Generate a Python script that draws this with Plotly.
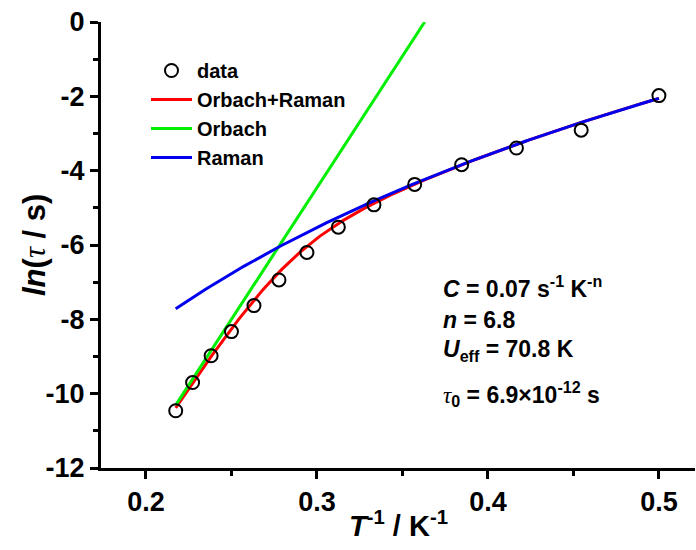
import numpy as np
import plotly.graph_objects as go

# Measured relaxation times: temperature (K) and ln(tau / s)
temperature = [4.6, 4.4, 4.2, 4.0, 3.8, 3.6, 3.4, 3.2, 3.0, 2.8, 2.6, 2.4, 2.2, 2.0]
ln_tau = [-10.46, -9.70, -8.98, -8.33, -7.63, -6.94, -6.20, -5.52, -4.92,
          -4.37, -3.84, -3.39, -2.91, -1.98]

# Fitted parameters for tau^-1 = C*T^n + tau0^-1 * exp(-Ueff/T)
C = 0.07
n = 6.8
U_eff = 70.8
tau0 = 6.9e-12

y_ticks = [0, -2, -4, -6, -8, -10, -12]
x_ticks = [0.2, 0.3, 0.4, 0.5]

inv_T = [1.0 / t for t in temperature]

# Model curves over the measured temperature window
x_fit = np.linspace(1 / max(temperature), 1 / min(temperature), 200)
T_fit = 1 / x_fit
rate_raman = C * T_fit ** n
rate_orbach = (1 / tau0) * np.exp(-U_eff / T_fit)
y_both = -np.log(rate_raman + rate_orbach)
y_raman = -np.log(rate_raman)

# Orbach line extends until it leaves the top of the frame (ln tau = 0)
x_orb = np.linspace(1 / max(temperature), -np.log(tau0) / U_eff, 200)
y_orb = np.log(tau0) + U_eff * x_orb

FONT = "Arial, Liberation Sans, sans-serif"

fig = go.Figure()
fig.add_trace(go.Scatter(x=x_fit, y=y_both, mode="lines", name="Orbach+Raman",
                         line=dict(color="#ff0000", width=3), legendrank=2))
fig.add_trace(go.Scatter(x=x_orb, y=y_orb, mode="lines", name="Orbach",
                         line=dict(color="#00ee00", width=3), legendrank=3))
fig.add_trace(go.Scatter(x=x_fit, y=y_raman, mode="lines", name="Raman",
                         line=dict(color="#0000ee", width=3), legendrank=4))
# data circles drawn last so they sit on top of the curves
fig.add_trace(go.Scatter(
    x=inv_T, y=ln_tau, mode="markers", name="data", legendrank=1,
    marker=dict(symbol="circle-open", size=13, color="black", line=dict(width=2))))

L, R, T, B = 101, 1, 22, 82
W, H = 696, 550
pw, ph = W - L - R, H - T - B


def px(xp):
    return (xp - L) / pw


def py(yp):
    return (H - B - yp) / ph


axis_common = dict(
    showline=True, linecolor="black", linewidth=3, mirror=False,
    ticks="outside", ticklen=8, tickwidth=3, tickcolor="black",
    showgrid=False, zeroline=False,
    tickfont=dict(family=FONT, size=27, color="black", weight="bold"),
)

fig.update_layout(
    width=W, height=H,
    margin=dict(l=L, r=R, t=T, b=B),
    paper_bgcolor="white", plot_bgcolor="white",
    showlegend=True,
    legend=dict(
        x=px(146), y=py(51), xanchor="left", yanchor="top",
        bgcolor="rgba(0,0,0,0)", borderwidth=0,
        font=dict(family=FONT, size=20, color="black", weight="bold"),
        traceorder="normal", itemwidth=41,
    ),
    xaxis=dict(range=[0.1737, 0.5211], tickvals=x_ticks,
               ticktext=[f"{v:.1f}" for v in x_ticks],
               ticklabelstandoff=0,
               minor=dict(dtick=0.05, tick0=0.2, ticks="outside", ticklen=5,
                          tickwidth=3, tickcolor="black"),
               **axis_common),
    yaxis=dict(range=[-12, 0], tickvals=y_ticks,
               ticktext=[str(v) for v in y_ticks],
               ticklabelstandoff=0,
               minor=dict(dtick=1, tick0=0, ticks="outside", ticklen=5,
                          tickwidth=3, tickcolor="black"),
               **axis_common),
)

tau_span = ("<span style='font-family:Liberation Serif, Times New Roman, serif;"
            "font-weight:normal'><i>τ</i></span>")

# axis titles, centred on the plotting area
fig.add_annotation(
    xref="paper", yref="paper", x=px(34), y=0.5, xanchor="center",
    yanchor="middle", showarrow=False,
    text=f"<i>ln</i>({tau_span} / s)", textangle=-90,
    font=dict(family=FONT, size=31, color="black", weight="bold"))
fig.add_annotation(
    xref="paper", yref="paper", x=0.5, y=py(524), xanchor="center",
    yanchor="middle", showarrow=False,
    text="<i>T</i><sup>-1</sup> / K<sup>-1</sup>",
    font=dict(family=FONT, size=29, color="black", weight="bold"))

# fitted parameters
param_lines = [
    ("<i>C</i> = 0.07 s<sup>-1</sup> K<sup>-n</sup>", 287),
    ("<i>n</i> = 6.8", 320),
    ("<i>U</i><sub>eff</sub> = 70.8 K", 350),
    (f"{tau_span}<sub>0</sub> = 6.9×10<sup>-12</sup> s", 394),
]
for txt, yp in param_lines:
    fig.add_annotation(
        xref="paper", yref="paper", x=px(441), y=py(yp), xanchor="left",
        yanchor="middle", showarrow=False, text=txt,
        font=dict(family=FONT, size=23, color="black", weight="bold"))

fig.write_html("out.html")
